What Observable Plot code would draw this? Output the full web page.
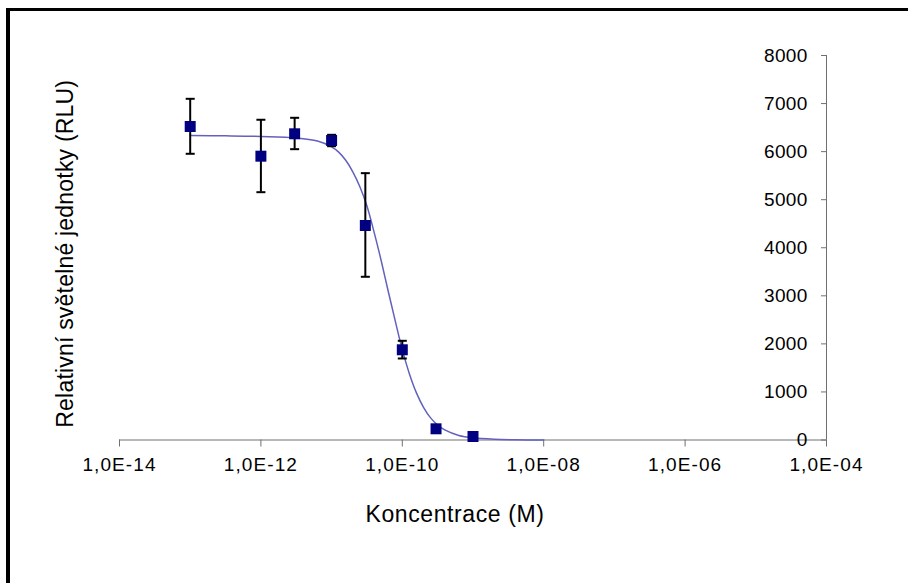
<!DOCTYPE html>
<html>
<head>
<meta charset="utf-8">
<script src="https://cdn.jsdelivr.net/npm/d3@7"></script>
<script src="https://cdn.jsdelivr.net/npm/@observablehq/plot@0.6"></script>
<style>
  html, body { margin: 0; padding: 0; background: #fff; overflow: hidden; }
  #wrap { position: relative; width: 908px; height: 583px; overflow: hidden; }
  #frame { position: absolute; left: 6px; top: 8px; width: 1200px; height: 1200px;
           border-top: 3px solid #000; border-left: 4px solid #000; pointer-events: none; }
  g[aria-label="x-axis tick label"] text { letter-spacing: 1.1px; }
  g[aria-label="y-axis tick label"] text { letter-spacing: 0.3px; }
  g[aria-label="text"] text { letter-spacing: 0.6px; }
  g[aria-label="text"] text[transform*="rotate"] { letter-spacing: 0.2px; }
</style>
</head>
<body>
<div id="wrap"><div id="chart"></div><div id="frame"></div></div>
<script>
// Measured points (concentration in M, RLU)
const concentrations = [1e-13, 1e-12, 3e-12, 1e-11, 3e-11, 1e-10, 3e-10, 1e-9];
const meanRLU       = [6523, 5905, 6371, 6232, 4463, 1877, 233, 73];
const errLow        = [5955, 5156, 6051, 6113, 3396, 1696, 180, 45];
const errHigh       = [7099, 6663, 6704, 6350, 5552, 2064, 290, 100];

// Fitted curve (log10 concentration, RLU)
const curveLogConc = [-13.0, -12.5, -12.0, -11.5, -11.2, -11.0, -10.9, -10.8, -10.7, -10.6, -10.5, -10.4, -10.3, -10.2, -10.1, -10.0, -9.9, -9.8, -9.7, -9.6, -9.5, -9.4, -9.2, -9.0, -8.7, -8.4, -8.0];
const curveRLU     = [6335, 6328, 6315, 6285, 6220, 6100, 5990, 5820, 5580, 5270, 4870, 4330, 3740, 3100, 2480, 1880, 1380, 980, 680, 460, 310, 210, 95, 45, 15, 5, 0];

// Axis ticks
const xTicks = [1e-14, 1e-12, 1e-10, 1e-8, 1e-6, 1e-4];
const xTickLabels = ["1,0E-14", "1,0E-12", "1,0E-10", "1,0E-08", "1,0E-06", "1,0E-04"];
const yTicks = [0, 1000, 2000, 3000, 4000, 5000, 6000, 7000, 8000];

const points = concentrations.map((c, i) => ({c, v: meanRLU[i], lo: errLow[i], hi: errHigh[i]}));
const curve = curveLogConc.map((l, i) => ({c: Math.pow(10, l), v: curveRLU[i]}));

const capSymbol = { draw(ctx) { ctx.moveTo(-4.5, 0); ctx.lineTo(4.5, 0); } };

const W = 908, H = 583;
const mL = 119, mR = W - 826, mT = 55, mB = H - 439.5;

const chart = Plot.plot({
  width: W,
  height: H,
  marginLeft: mL,
  marginRight: mR,
  marginTop: mT,
  marginBottom: mB,
  style: { fontFamily: "'Liberation Sans', Arial, sans-serif", background: "white", color: "black" },
  x: { type: "log", domain: [1e-14, 1e-4] },
  y: { domain: [0, 8000] },
  marks: [
    Plot.ruleY([0], { stroke: "#707070", strokeWidth: 1 }),
    Plot.ruleX([1e-4], { stroke: "#707070", strokeWidth: 1 }),
    Plot.axisX({
      anchor: "bottom", ticks: xTicks, tickSize: 7, tickPadding: 10,
      tickFormat: d => xTickLabels[xTicks.findIndex(t => Math.abs(Math.log10(t) - Math.log10(d)) < 1e-6)],
      stroke: "#707070", fill: "black", fontSize: 19, label: null
    }),
    Plot.axisY({
      anchor: "right", ticks: yTicks, tickSize: -6, tickPadding: -13, textAnchor: "end",
      tickFormat: d => String(d), stroke: "#707070", fill: "black", fontSize: 19, label: null
    }),
    Plot.line(curve, { x: "c", y: "v", stroke: "#6262bd", strokeWidth: 1.5, curve: "catmull-rom" }),
    Plot.ruleX(points, { x: "c", y1: "lo", y2: "hi", stroke: "black", strokeWidth: 2 }),
    Plot.dot(points, { x: "c", y: "lo", symbol: capSymbol, r: 4, stroke: "black", strokeWidth: 2, fill: "none" }),
    Plot.dot(points, { x: "c", y: "hi", symbol: capSymbol, r: 4, stroke: "black", strokeWidth: 2, fill: "none" }),
    Plot.dot(points, { x: "c", y: "v", symbol: "square", r: 6.2, fill: "#000080", stroke: "none" }),
    Plot.text(["Koncentrace (M)"], { frameAnchor: "bottom", lineAnchor: "bottom", dx: -18, dy: 81.5, fontSize: 23, fill: "black" }),
    Plot.text(["Relativní světelné jednotky (RLU)"], { frameAnchor: "left", rotate: -90, lineAnchor: "bottom", textAnchor: "middle", dx: -47, dy: 6, fontSize: 23, fill: "black" })
  ]
});
document.getElementById("chart").appendChild(chart);
</script>
</body>
</html>
